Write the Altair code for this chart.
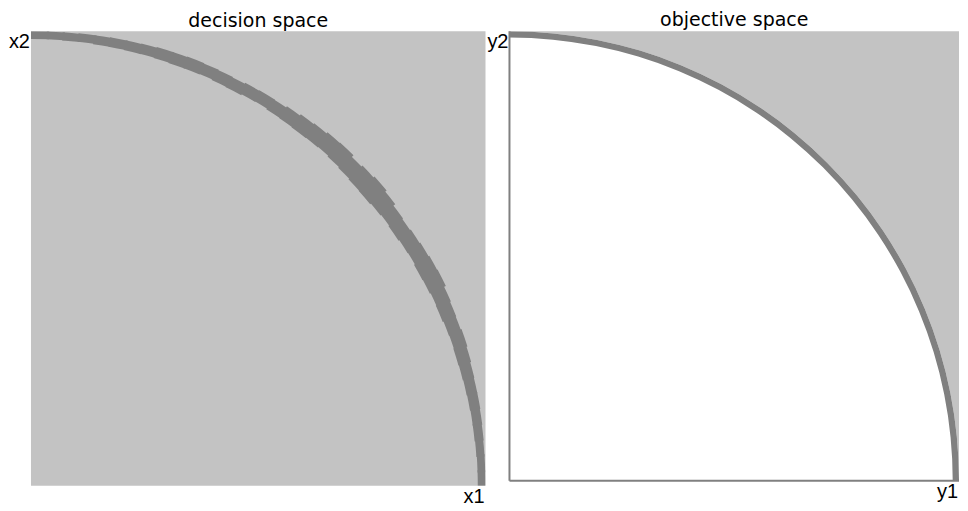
import math
import altair as alt
import pandas as pd

# ---- data ----
# decision space: noisy band along the front, in 2-degree segments
# (angle measured clockwise from the x2 axis), radii as fraction of panel size
seg_start = [0, 2, 4, 6, 8, 10, 12, 14, 16, 18, 20, 22, 24, 26, 28,
             30, 32, 34, 36, 38, 40, 42, 44, 46, 48, 50, 52, 54, 56, 58,
             60, 62, 64, 66, 68, 70, 72, 74, 76, 78, 80, 82, 84, 86, 88]
seg_end = [2, 4, 6, 8, 10, 12, 14, 16, 18, 20, 22, 24, 26, 28, 30,
           32, 34, 36, 38, 40, 42, 44, 46, 48, 50, 52, 54, 56, 58, 60,
           62, 64, 66, 68, 70, 72, 74, 76, 78, 80, 82, 84, 86, 88, 90]
band_outer = [1.000, 1.000, 1.000, 1.001, 1.001, 1.002, 1.002, 1.003, 1.004, 1.004,
              1.005, 1.004, 1.003, 1.002, 1.004, 1.005, 1.004, 1.007, 1.010, 1.012,
              1.015, 1.016, 1.011, 1.014, 1.017, 1.013, 1.008, 1.006, 1.008, 1.010,
              1.012, 1.013, 1.009, 1.007, 1.006, 1.008, 1.006, 1.004, 1.003, 1.003,
              1.002, 1.001, 1.000, 1.000, 1.000]
band_inner = [0.983, 0.983, 0.982, 0.982, 0.981, 0.981, 0.980, 0.980, 0.979, 0.978,
              0.978, 0.979, 0.977, 0.976, 0.978, 0.979, 0.977, 0.976, 0.975, 0.976,
              0.977, 0.975, 0.973, 0.971, 0.970, 0.972, 0.974, 0.972, 0.974, 0.975,
              0.973, 0.974, 0.976, 0.975, 0.977, 0.978, 0.977, 0.978, 0.979, 0.980,
              0.981, 0.981, 0.982, 0.983, 0.983]

# objective space: smooth front (quarter circle) and its band
front_start = [0]
front_end = [90]
front_outer = [1.0]
front_inner = [0.986]

left_labels = ["x2", "x1"]
right_labels = ["y2", "y1"]
label_x = [0, 1]
label_y = [1, 0]

LIGHT = "#c3c3c3"
DARK = "#808080"
TFONT = "DejaVu Sans"
LFONT = "Liberation Sans"


def panel(title, size, starts, ends, outer, inner, labels, objective):
    xs = alt.Scale(domain=[0, 1], nice=False, zero=False)
    ys = alt.Scale(domain=[0, 1], nice=False, zero=False)
    ts = alt.Scale(domain=[0, 90], range=[0, math.pi / 2])
    rs = alt.Scale(type="linear", domain=[0, 1], range=[0, size])

    bg = alt.Chart(pd.DataFrame({"x0": [0], "x1": [1], "y0": [0], "y1": [1]})).mark_rect(
        color=LIGHT
    ).encode(
        x=alt.X("x0:Q", scale=xs, axis=None), x2="x1:Q",
        y=alt.Y("y0:Q", scale=ys, axis=None), y2="y1:Q",
    )

    layers = [bg]

    a1 = [min(e + 0.3, 90) for e in ends]
    band_df = pd.DataFrame({"a0": starts, "a1": a1, "ro": outer, "ri": inner,
                            "cx": [0] * len(starts), "cy": [0] * len(starts)})

    def arc(df, color, r2):
        return alt.Chart(df).mark_arc(color=color, clip=True).encode(
            x=alt.X("cx:Q", scale=xs, axis=None),
            y=alt.Y("cy:Q", scale=ys, axis=None),
            theta=alt.Theta("a0:Q", scale=ts, stack=False),
            theta2="a1:Q",
            radius=alt.Radius("ro:Q", scale=rs),
            radius2=r2,
        )

    if objective:
        fill_df = band_df.assign(zero=[0] * len(starts))
        layers.append(arc(fill_df, "white", "zero:Q"))
    layers.append(arc(band_df, DARK, "ri:Q"))

    if objective:
        ax = pd.DataFrame({"x0": [0, 0], "y0": [0, 0], "x1": [0, 1], "y1": [1, 0]})
        layers.append(alt.Chart(ax).mark_rule(color=DARK, strokeWidth=2).encode(
            x=alt.X("x0:Q", scale=xs, axis=None), x2="x1:Q",
            y=alt.Y("y0:Q", scale=ys, axis=None), y2="y1:Q",
        ))

    lab = pd.DataFrame({"x": label_x, "y": label_y, "t": labels})
    layers.append(alt.Chart(lab).mark_text(
        align="right", baseline="top", dx=-1, dy=1, font=LFONT, fontSize=20, color="black"
    ).encode(
        x=alt.X("x:Q", scale=xs, axis=None),
        y=alt.Y("y:Q", scale=ys, axis=None),
        text="t:N",
    ))

    return alt.layer(*layers).properties(
        width=size, height=size,
        title=alt.TitleParams(text=title, fontSize=19, font=TFONT, fontWeight="normal",
                              offset=0, anchor="middle", color="black"),
    )


left = panel("decision space", 455, seg_start, seg_end, band_outer, band_inner,
             left_labels, False)
right = panel("objective space", 450, front_start, front_end, front_outer, front_inner,
              right_labels, True)

chart = alt.hconcat(left, right, spacing=1).properties(
    padding={"left": 0, "top": 3, "right": 0, "bottom": 0},
    background="white",
).configure_view(stroke=None)

chart.save("out.html", embed_options={"renderer": "svg", "actions": False})
